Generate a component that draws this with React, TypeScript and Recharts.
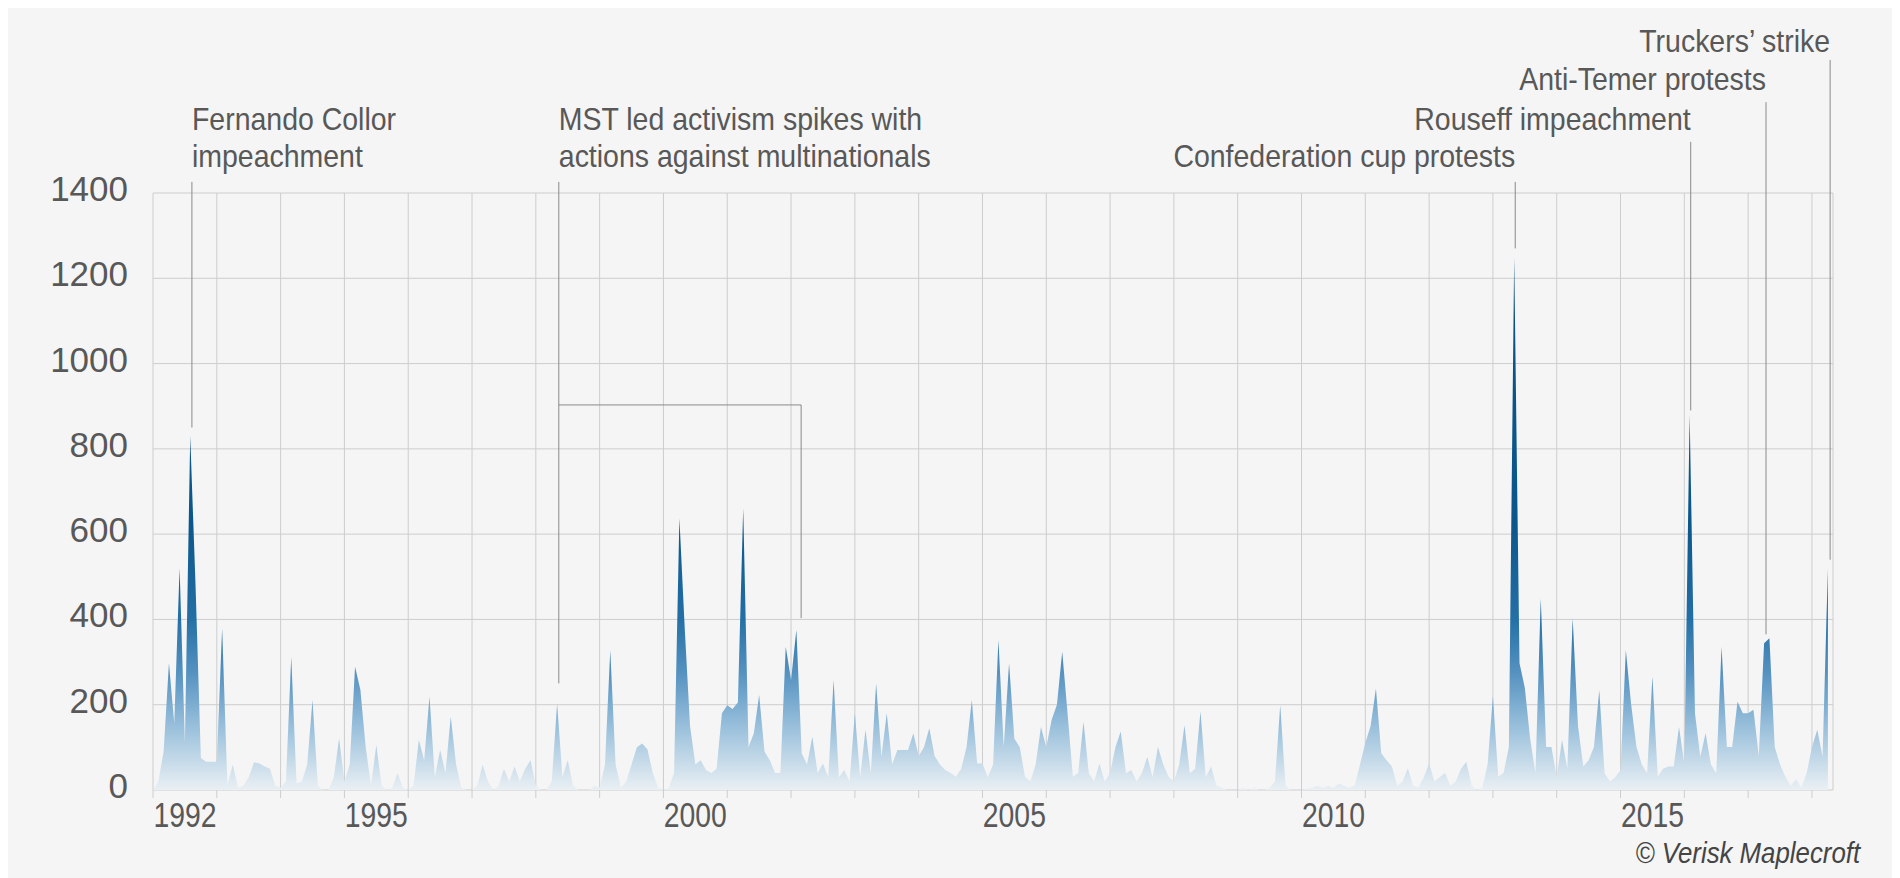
import React from 'react';
import {
  ComposedChart,
  Area,
  XAxis,
  YAxis,
  CartesianGrid,
  ReferenceLine,
  ReferenceDot,
} from 'recharts';

// Monthly protest counts, one array per year (Jan..Dec)
const START_YEAR = 1992;
const y1992 = [0, 20, 90, 297, 156, 520, 110, 830, 480, 75, 66, 66];
const y1993 = [66, 379, 10, 60, 5, 10, 30, 65, 62, 55, 50, 10];
const y1994 = [5, 20, 312, 15, 20, 60, 211, 10, 0, 0, 30, 121];
const y1995 = [20, 60, 289, 235, 101, 10, 105, 10, 0, 5, 40, 5];
const y1996 = [0, 10, 117, 70, 219, 30, 94, 40, 172, 60, 5, 0];
const y1997 = [0, 10, 59, 20, 0, 10, 50, 20, 55, 20, 50, 70];
const y1998 = [10, 0, 0, 20, 203, 30, 70, 10, 0, 0, 0, 10];
const y1999 = [5, 60, 328, 60, 5, 20, 60, 100, 109, 95, 40, 5];
const y2000 = [0, 5, 40, 637, 380, 150, 60, 70, 47, 40, 50, 180];
const y2001 = [199, 190, 205, 660, 100, 133, 223, 90, 70, 40, 40, 336];
const y2002 = [258, 375, 86, 60, 125, 40, 62, 30, 258, 30, 47, 20];
const y2003 = [180, 30, 141, 40, 250, 78, 180, 60, 94, 94, 94, 133];
const y2004 = [80, 100, 145, 80, 60, 47, 40, 31, 50, 100, 211, 62];
const y2005 = [62, 30, 60, 352, 101, 297, 120, 101, 31, 20, 60, 148];
const y2006 = [100, 164, 200, 324, 180, 31, 40, 160, 39, 20, 62, 20];
const y2007 = [40, 100, 137, 39, 47, 20, 40, 78, 30, 101, 60, 31];
const y2008 = [20, 60, 152, 39, 50, 184, 30, 55, 10, 5, 0, 0];
const y2009 = [0, 5, 0, 5, 0, 0, 5, 20, 199, 10, 0, 0];
const y2010 = [0, 3, 5, 10, 5, 10, 5, 15, 10, 5, 10, 60];
const y2011 = [110, 150, 238, 86, 70, 55, 10, 20, 51, 10, 5, 30];
const y2012 = [62, 20, 30, 40, 10, 20, 50, 66, 10, 0, 5, 60];
const y2013 = [219, 31, 40, 101, 1250, 297, 240, 120, 40, 449, 101, 101];
const y2014 = [31, 117, 50, 402, 150, 55, 70, 101, 234, 39, 20, 30];
const y2015 = [47, 328, 200, 101, 60, 39, 266, 31, 50, 55, 55, 148];
const y2016 = [60, 880, 180, 78, 133, 60, 39, 336, 101, 101, 207, 180];
const y2017 = [180, 188, 80, 344, 356, 101, 60, 31, 10, 25, 5, 39];
const y2018 = [100, 141, 78, 520];

const monthlyValues = [
  ...y1992, ...y1993, ...y1994, ...y1995, ...y1996, ...y1997, ...y1998,
  ...y1999, ...y2000, ...y2001, ...y2002, ...y2003, ...y2004, ...y2005,
  ...y2006, ...y2007, ...y2008, ...y2009, ...y2010, ...y2011, ...y2012,
  ...y2013, ...y2014, ...y2015, ...y2016, ...y2017, ...y2018,
];

const data = monthlyValues.map((v, i) => ({ t: START_YEAR + i / 12, v }));

// Axes
const gridYears = [
  1992, 1993, 1994, 1995, 1996, 1997, 1998, 1999, 2000, 2001, 2002, 2003, 2004,
  2005, 2006, 2007, 2008, 2009, 2010, 2011, 2012, 2013, 2014, 2015, 2016, 2017, 2018,
];
const labelYears = [1992, 1995, 2000, 2005, 2010, 2015];
const labelTicks = labelYears.map((y) => y + 0.5); // labels sit in the middle of the year band
const yTicks = [0, 200, 400, 600, 800, 1000, 1200, 1400];
const X_DOMAIN: [number, number] = [1992, 2018.33];

// Annotations (data-space positions)
const annotationTexts = [
  ['Fernando Collor', 'impeachment'],
  ['MST led activism spikes with', 'actions against multinationals'],
  ['Confederation cup protests'],
  ['Rouseff impeachment'],
  ['Anti-Temer protests'],
  ['Truckers\u2019 strike'],
];
const annotationX = [1992.61, 1998.36, 2013.35, 2016.1, 2017.28, 2018.285];
const annotationTop = [1426, 1426, 1426, 1520, 1613, 1712];
const annotationEnd = [850, 250, 1270, 890, 365, 540];
const annotationBaselines = [[1548, 1461], [1548, 1461], [1461], [1548], [1641], [1731]];
const annotationAnchor = ['start', 'start', 'end', 'end', 'end', 'end'];
const mstBracketY = 903;
const mstBracketX2 = 2002.158;
const mstBracketEnd = 403;

const FONT = '"Liberation Sans", Arial, sans-serif';
const TEXT_COLOR = '#585858';
const GRID_COLOR = '#cdcdcd';
const LINE_COLOR = '#8a8a8a';

const YTick = (props: any) => {
  const { x, y, payload } = props;
  return (
    <text x={x} y={y + 8} textAnchor="end" fontSize={35} fill={TEXT_COLOR} fontFamily={FONT}>
      {payload.value}
    </text>
  );
};

const YearLabel = (props: any) => {
  const { x, y, payload } = props;
  return (
    <text
      transform={`translate(${x},${y + 29}) scale(0.81,1)`}
      textAnchor="middle"
      fontSize={35}
      fill={TEXT_COLOR}
      fontFamily={FONT}
    >
      {Math.floor(payload.value)}
    </text>
  );
};

const makeAnnotationShape = (text: string, anchor: string) => (p: any) => (
  <text
    transform={`translate(${p.cx},${p.cy}) scale(0.89,1)`}
    textAnchor={anchor}
    fontSize={32}
    fill={TEXT_COLOR}
    fontFamily={FONT}
  >
    {text}
  </text>
);

export default function App() {
  const annotationElements: React.ReactNode[] = [];
  annotationTexts.forEach((lines, i) => {
    annotationElements.push(
      <ReferenceLine
        key={`al${i}`}
        ifOverflow="visible"
        segment={[
          { x: annotationX[i], y: annotationTop[i] },
          { x: annotationX[i], y: annotationEnd[i] },
        ]}
        stroke={LINE_COLOR}
        strokeWidth={1}
      />
    );
    lines.forEach((line, j) => {
      annotationElements.push(
        <ReferenceDot
          key={`at${i}-${j}`}
          x={annotationX[i]}
          y={annotationBaselines[i][j]}
          r={0}
          ifOverflow="visible"
          shape={makeAnnotationShape(line, annotationAnchor[i])}
        />
      );
    });
  });

  return (
    <div
      style={{
        position: 'relative',
        marginTop: -2,
        width: 1885,
        height: 872,
        background: '#f5f5f5',
        fontFamily: FONT,
      }}
    >
      <ComposedChart
        width={1885}
        height={872}
        data={data}
        margin={{ top: 187, right: 60, left: 65, bottom: 20 }}
      >
        <defs>
          <linearGradient id="areaFill" x1="0" y1="0" x2="0" y2="1">
            <stop offset="0" stopColor="#0a5184" />
            <stop offset="0.5" stopColor="#0b578c" />
            <stop offset="0.68" stopColor="#2470a6" />
            <stop offset="0.78" stopColor="#5592c0" />
            <stop offset="0.88" stopColor="#98bfdb" />
            <stop offset="1" stopColor="#eaf0f4" />
          </linearGradient>
        </defs>
        <CartesianGrid stroke={GRID_COLOR} strokeWidth={1} />
        <XAxis
          dataKey="t"
          type="number"
          domain={X_DOMAIN}
          allowDataOverflow
          ticks={gridYears}
          interval={0}
          height={8}
          tickSize={8}
          tickLine={{ stroke: GRID_COLOR }}
          axisLine={false}
          tickFormatter={() => ''}
        />
        <XAxis
          xAxisId="lab"
          dataKey="t"
          type="number"
          domain={X_DOMAIN}
          allowDataOverflow
          ticks={labelTicks}
          interval={0}
          height={60}
          tickSize={0}
          tickMargin={0}
          tickLine={false}
          axisLine={false}
          tick={<YearLabel />}
        />
        <YAxis
          type="number"
          domain={[0, 1400]}
          ticks={yTicks}
          interval={0}
          width={80}
          tickSize={0}
          tickMargin={25}
          tickLine={false}
          axisLine={false}
          tick={<YTick />}
        />
        <Area
          type="linear"
          dataKey="v"
          stroke="none"
          fill="url(#areaFill)"
          fillOpacity={1}
          isAnimationActive={false}
          dot={false}
          activeDot={false}
        />
        {annotationElements}
        <ReferenceLine
          ifOverflow="visible"
          segment={[
            { x: annotationX[1], y: mstBracketY },
            { x: mstBracketX2, y: mstBracketY },
          ]}
          stroke={LINE_COLOR}
          strokeWidth={1}
        />
        <ReferenceLine
          ifOverflow="visible"
          segment={[
            { x: mstBracketX2, y: mstBracketY },
            { x: mstBracketX2, y: mstBracketEnd },
          ]}
          stroke={LINE_COLOR}
          strokeWidth={1}
        />
      </ComposedChart>
      <div
        style={{
          position: 'absolute',
          right: 33,
          top: 832,
          fontSize: 30,
          lineHeight: '30px',
          fontStyle: 'italic',
          color: '#444',
          transform: 'scaleX(0.86)',
          transformOrigin: 'right center',
          whiteSpace: 'nowrap',
        }}
      >
        © Verisk Maplecroft
      </div>
    </div>
  );
}
